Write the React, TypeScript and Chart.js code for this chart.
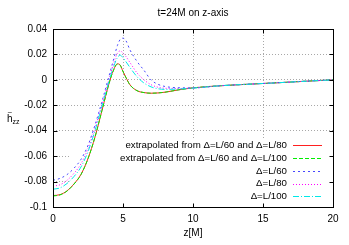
import React, { useEffect, useRef } from "react";
import { Chart, registerables } from "chart.js";

Chart.register(...registerables);

const zValues = [0, 0.5, 1, 1.5, 2, 2.5, 3, 3.5, 4, 4.3, 4.6, 4.8, 5, 5.2, 5.5, 6, 6.5, 7, 7.5, 8, 9, 10, 12, 14, 16, 18, 20];

const extrapL80 = [-0.0910, -0.0903, -0.0873, -0.0818, -0.0743, -0.0619, -0.0449, -0.0239, -0.0029, 0.0071, 0.0126, 0.0116, 0.0066, 0.0021, -0.0039, -0.0085, -0.0100, -0.0105, -0.0103, -0.0097, -0.0078, -0.0063, -0.0046, -0.0034, -0.0023, -0.0011, 0.0];
const extrapL100 = [-0.0913, -0.0905, -0.0875, -0.0820, -0.0745, -0.0620, -0.0450, -0.0240, -0.0030, 0.0070, 0.0124, 0.0115, 0.0065, 0.0020, -0.0040, -0.0085, -0.0100, -0.0105, -0.0103, -0.0097, -0.0078, -0.0063, -0.0046, -0.0034, -0.0023, -0.0011, 0.0];
const deltaL60 = [-0.0790, -0.0775, -0.0745, -0.0695, -0.0625, -0.0515, -0.0355, -0.0170, 0.0030, 0.0150, 0.0270, 0.0318, 0.0328, 0.0310, 0.0235, 0.0145, 0.0075, 0.0000, -0.0035, -0.0052, -0.0062, -0.0063, -0.0046, -0.0034, -0.0023, -0.0011, 0.0];
const deltaL80 = [-0.0835, -0.0825, -0.0790, -0.0735, -0.0660, -0.0540, -0.0380, -0.0190, 0.0005, 0.0120, 0.0210, 0.0228, 0.0210, 0.0185, 0.0136, 0.0055, 0.0000, -0.0038, -0.0058, -0.0066, -0.0068, -0.0064, -0.0046, -0.0034, -0.0023, -0.0011, 0.0];
const deltaL100 = [-0.0860, -0.0850, -0.0815, -0.0760, -0.0685, -0.0565, -0.0400, -0.0205, -0.0010, 0.0095, 0.0175, 0.0194, 0.0175, 0.0145, 0.0097, 0.0025, -0.0025, -0.0055, -0.0070, -0.0075, -0.0072, -0.0065, -0.0046, -0.0034, -0.0023, -0.0011, 0.0];

const seriesLabels = [
  "extrapolated from \u0394=L/60 and \u0394=L/80",
  "extrapolated from \u0394=L/60 and \u0394=L/100",
  "\u0394=L/60",
  "\u0394=L/80",
  "\u0394=L/100",
];
const seriesValues = [extrapL80, extrapL100, deltaL60, deltaL80, deltaL100];
const seriesColors = ["#ff2020", "#00ee00", "#4848ff", "#ff00ff", "#00e8e8"];
const seriesDashes: number[][] = [[], [4, 2], [2, 3], [1, 2], [6, 2, 1, 2]];

const xTicks = [0, 5, 10, 15, 20];
const yTicks = [0.04, 0.02, 0, -0.02, -0.04, -0.06, -0.08, -0.1];

const titleText = "t=24M on z-axis";
const xLabel = "z[M]";

const FONT = "'Liberation Sans', Arial, sans-serif";

function drawSample(ctx: CanvasRenderingContext2D, x0: number, x1: number, y: number, color: string, dash: number[]) {
  ctx.fillStyle = color;
  const yy = Math.round(y);
  if (!dash.length) {
    ctx.fillRect(x0, yy, x1 - x0, 1);
    return;
  }
  let x = x0;
  let k = 0;
  while (x < x1) {
    const len = dash[k % dash.length];
    if (k % 2 === 0) ctx.fillRect(x, yy, Math.min(len, x1 - x), 1);
    x += len;
    k++;
  }
}

const decorPlugin = {
  id: "decor",
  beforeDatasetsDraw(chart: any) {
    const { ctx, chartArea } = chart;
    ctx.save();
    ctx.fillStyle = "#ffffff";
    ctx.fillRect(71, 139, chartArea.right - 71, chartArea.bottom - 139);
    ctx.restore();
  },
  afterDatasetsDraw(chart: any) {
    const { ctx, chartArea } = chart;
    const xs = chart.scales.x;
    const ys = chart.scales.y;
    const L = Math.round(chartArea.left) + 0.5;
    const R = Math.round(chartArea.right) + 0.5;
    const T = Math.round(chartArea.top) + 0.5;
    const B = Math.round(chartArea.bottom) + 0.5;
    ctx.save();
    ctx.strokeStyle = "#000000";
    ctx.lineWidth = 1;
    ctx.setLineDash([]);
    ctx.beginPath();
    xs.ticks.forEach((t: any) => {
      const px = Math.round(xs.getPixelForValue(t.value)) + 0.5;
      ctx.moveTo(px, B);
      ctx.lineTo(px, B - 4);
      ctx.moveTo(px, T);
      ctx.lineTo(px, T + 4);
    });
    ys.ticks.forEach((t: any) => {
      const py = Math.round(ys.getPixelForValue(t.value)) + 0.5;
      ctx.moveTo(L, py);
      ctx.lineTo(L + 4, py);
      ctx.moveTo(R, py);
      ctx.lineTo(R - 4, py);
    });
    ctx.stroke();
    ctx.strokeRect(L, T, R - L, B - T);

    // legend
    ctx.font = `9.7px ${FONT}`;
    ctx.textAlign = "right";
    ctx.textBaseline = "middle";
    const rowY = [145, 158, 171, 183.5, 196];
    seriesLabels.forEach((lab, i) => {
      ctx.fillStyle = "#000000";
      ctx.fillText(lab, 287, rowY[i]);
      drawSample(ctx, 293, 322, rowY[i], seriesColors[i], seriesDashes[i]);
    });

    ctx.fillStyle = "#000000";
    ctx.textAlign = "center";
    ctx.font = `10px ${FONT}`;
    ctx.fillText(titleText, (chartArea.left + chartArea.right) / 2, 13);
    ctx.fillText(xLabel, (chartArea.left + chartArea.right) / 2, 233);
    ctx.textAlign = "left";
    ctx.textBaseline = "alphabetic";
    ctx.font = `10px ${FONT}`;
    ctx.fillText("h", 7, 122);
    ctx.font = `8px ${FONT}`;
    ctx.fillText("~", 7.5, 115);
    ctx.font = `7px ${FONT}`;
    ctx.fillText("zz", 12.5, 124);
    ctx.restore();
  },
};

export default function App() {
  const ref = useRef<HTMLCanvasElement | null>(null);
  useEffect(() => {
    document.body.style.margin = "0";
    const canvas = ref.current!;
    const chart = new Chart(canvas, {
      type: "line",
      data: {
        datasets: seriesValues.map((vals, i) => ({
          label: seriesLabels[i],
          data: zValues.map((z, k) => ({ x: z, y: vals[k] })),
          borderColor: seriesColors[i],
          borderWidth: 1,
          borderDash: seriesDashes[i],
          pointRadius: 0,
          fill: false,
          cubicInterpolationMode: "monotone" as const,
          order: 4 - i,
        })),
      },
      options: {
        animation: false,
        responsive: false,
        maintainAspectRatio: false,
        devicePixelRatio: 1,
        layout: { padding: { left: 0, right: 16, top: 29, bottom: 0 } },
        plugins: {
          legend: { display: false },
          title: { display: false },
          tooltip: { enabled: false },
        },
        scales: {
          x: {
            type: "linear",
            min: 0,
            max: 20,
            afterBuildTicks: (s: any) => {
              s.ticks = xTicks.map((v) => ({ value: v }));
            },
            afterFit: (s: any) => {
              s.height = 38;
            },
            ticks: {
              color: "#000000",
              font: { family: FONT, size: 10 },
              padding: 6,
              maxRotation: 0,
              autoSkip: false,
              callback: (v: any) => String(v),
            },
            grid: {
              drawTicks: false,
              color: (c: any) =>
                c.tick && (c.tick.value === 0 || c.tick.value === 20) ? "rgba(0,0,0,0)" : "#a8a8a8",
              lineWidth: 1,
            },
            border: { display: false, dash: [1, 2] },
          },
          y: {
            type: "linear",
            min: -0.1,
            max: 0.04,
            afterBuildTicks: (s: any) => {
              s.ticks = yTicks.map((v) => ({ value: v }));
            },
            afterFit: (s: any) => {
              s.width = 53;
            },
            ticks: {
              color: "#000000",
              font: { family: FONT, size: 10 },
              padding: 6,
              autoSkip: false,
              callback: (v: any) => {
                const n = Number(Number(v).toFixed(2));
                return n === 0 ? "0" : String(n);
              },
            },
            grid: {
              drawTicks: false,
              color: (c: any) =>
                c.tick && (Math.abs(c.tick.value - 0.04) < 1e-9 || Math.abs(c.tick.value + 0.1) < 1e-9)
                  ? "rgba(0,0,0,0)"
                  : "#a8a8a8",
              lineWidth: 1,
            },
            border: { display: false, dash: [1, 2] },
          },
        },
      },
      plugins: [decorPlugin],
    });
    return () => chart.destroy();
  }, []);
  return (
    <div style={{ width: 349, height: 245, background: "#fff" }}>
      <canvas ref={ref} width={349} height={245} style={{ display: "block", width: 349, height: 245 }} />
    </div>
  );
}
